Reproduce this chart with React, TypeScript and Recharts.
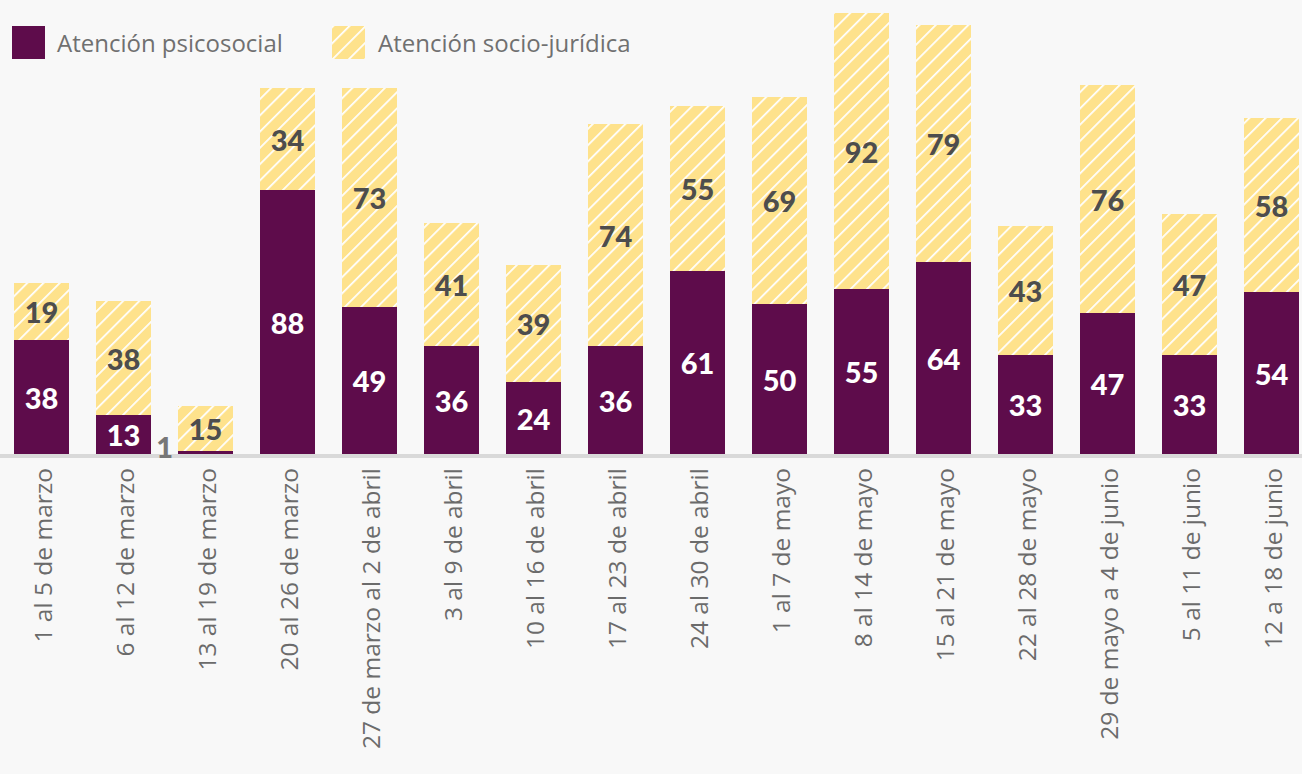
import { BarChart, Bar, XAxis, YAxis, LabelList, ReferenceLine } from 'recharts';

const categories = [
  '1 al 5 de marzo',
  '6 al 12 de marzo',
  '13 al 19 de marzo',
  '20 al 26 de marzo',
  '27 de marzo al 2 de abril',
  '3 al 9 de abril',
  '10 al 16 de abril',
  '17 al 23 de abril',
  '24 al 30 de abril',
  '1 al 7 de mayo',
  '8 al 14 de mayo',
  '15 al 21 de mayo',
  '22 al 28 de mayo',
  '29 de mayo a 4 de junio',
  '5 al 11 de junio',
  '12 a 18 de junio',
];

const psicosocial = [38, 13, 1, 88, 49, 36, 24, 36, 61, 50, 55, 64, 33, 47, 33, 54];
const socioJuridica = [19, 38, 15, 34, 73, 41, 39, 74, 55, 69, 92, 79, 43, 76, 47, 58];

const PURPLE = '#5e0c4b';
const YELLOW = '#fee28c';

const data = categories.map((name, i) => ({
  name,
  psicosocial: psicosocial[i],
  juridica: socioJuridica[i],
}));

const numFont = 'Lato, sans-serif';

function PsicoLabel(props: any) {
  const { x, y, width, height, value } = props;
  if (value < 5) {
    return (
      <text
        x={x - 5}
        y={y + height - 8}
        textAnchor="end"
        dominantBaseline="central"
        fill="#777777"
        fontFamily={numFont}
        fontWeight={900}
        fontSize={29}
      >
        {value}
      </text>
    );
  }
  return (
    <text
      x={x + width / 2}
      y={y + height / 2}
      textAnchor="middle"
      dominantBaseline="central"
      fill="#ffffff"
      fontFamily={numFont}
      fontWeight={900}
      fontSize={29}
    >
      {value}
    </text>
  );
}

function JuriLabel(props: any) {
  const { x, y, width, height, value } = props;
  return (
    <text
      x={x + width / 2}
      y={y + height / 2}
      textAnchor="middle"
      dominantBaseline="central"
      fill="#4d4d4d"
      fontFamily={numFont}
      fontWeight={900}
      fontSize={29}
    >
      {value}
    </text>
  );
}

function CategoryTick(props: any) {
  const { x, y, payload } = props;
  const ty = y + 6;
  return (
    <text
      x={x + 1}
      y={ty}
      transform={`rotate(-90, ${x + 1}, ${ty})`}
      textAnchor="end"
      dominantBaseline="central"
      fill="#6b6b6b"
      fontFamily="'Open Sans', sans-serif"
      fontWeight={500}
      fontSize={24.5}
    >
      {payload.value}
    </text>
  );
}

function HatchPattern({ id }: { id: string }) {
  return (
    <pattern
      id={id}
      patternUnits="userSpaceOnUse"
      width={11.5}
      height={11.5}
      patternTransform="rotate(45)"
    >
      <rect width={11.5} height={11.5} fill={YELLOW} />
      <line x1={0} y1={0} x2={0} y2={11.5} stroke="#ffffff" strokeWidth={3.5} />
    </pattern>
  );
}

const legendText: React.CSSProperties = {
  position: 'absolute',
  top: 26,
  height: 33,
  lineHeight: '33px',
  fontFamily: "'Open Sans', sans-serif",
  fontWeight: 500,
  fontSize: 24,
  color: '#707070',
  whiteSpace: 'nowrap',
};

export default function App() {
  return (
    <div
      style={{
        position: 'fixed',
        left: 0,
        top: 0,
        width: 1302,
        height: 774,
        overflow: 'hidden',
        background: '#f8f8f8',
      }}
    >
      <BarChart
        width={1312}
        height={774}
        data={data}
        margin={{ top: 4, right: 0, bottom: 0, left: 0 }}
        barSize={55}
      >
        <defs>
          <HatchPattern id="hatch" />
        </defs>
        <XAxis
          dataKey="name"
          height={320}
          axisLine={false}
          tickLine={false}
          interval={0}
          tick={<CategoryTick />}
        />
        <YAxis hide domain={[0, 150]} />
        <ReferenceLine y={-0.67} stroke="#d9d9d9" strokeWidth={4} ifOverflow="visible" />
        <Bar dataKey="psicosocial" stackId="a" fill={PURPLE} isAnimationActive={false}>
          <LabelList dataKey="psicosocial" content={<PsicoLabel />} />
        </Bar>
        <Bar dataKey="juridica" stackId="a" fill="url(#hatch)" isAnimationActive={false}>
          <LabelList dataKey="juridica" content={<JuriLabel />} />
        </Bar>
      </BarChart>

      <div style={{ position: 'absolute', left: 12, top: 26, width: 33, height: 33, background: PURPLE }} />
      <div style={{ ...legendText, left: 57 }}>Atención psicosocial</div>
      <svg
        width={33}
        height={33}
        style={{ position: 'absolute', left: 332, top: 26 }}
      >
        <defs>
          <HatchPattern id="hatch-legend" />
        </defs>
        <rect width={33} height={33} fill="url(#hatch-legend)" />
      </svg>
      <div style={{ ...legendText, left: 378 }}>Atención socio-jurídica</div>
    </div>
  );
}
